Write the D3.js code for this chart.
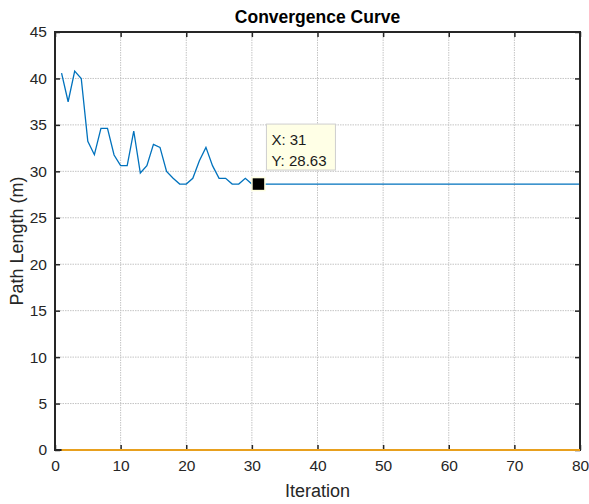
<!DOCTYPE html>
<html>
<head>
<meta charset="utf-8">
<script src="https://cdn.jsdelivr.net/npm/d3@7"></script>
<style>
  html, body { margin: 0; padding: 0; background: #fff; }
  svg { display: block; font-family: "Liberation Sans", Arial, sans-serif; }
</style>
</head>
<body>
<svg id="chart" width="589" height="504"></svg>
<script>
// Path length of the best route at each iteration
const iterations = d3.range(1, 81);
const pathLength = [
  40.57, 37.49, 40.79, 40.00, 33.23, 31.79, 34.62, 34.62, 31.76, 30.61,
  30.61, 34.34, 29.82, 30.61, 32.90, 32.58, 30.00, 29.25, 28.63, 28.63,
  29.25, 31.15, 32.58, 30.61, 29.25, 29.25, 28.63, 28.63, 29.25, 28.63,
  28.63, 28.63, 28.63, 28.63, 28.63, 28.63, 28.63, 28.63, 28.63, 28.63,
  28.63, 28.63, 28.63, 28.63, 28.63, 28.63, 28.63, 28.63, 28.63, 28.63,
  28.63, 28.63, 28.63, 28.63, 28.63, 28.63, 28.63, 28.63, 28.63, 28.63,
  28.63, 28.63, 28.63, 28.63, 28.63, 28.63, 28.63, 28.63, 28.63, 28.63,
  28.63, 28.63, 28.63, 28.63, 28.63, 28.63, 28.63, 28.63, 28.63, 28.63
];
const baseline = [
  0, 0, 0, 0, 0, 0, 0, 0, 0, 0, 0, 0, 0, 0, 0, 0, 0, 0, 0, 0,
  0, 0, 0, 0, 0, 0, 0, 0, 0, 0, 0, 0, 0, 0, 0, 0, 0, 0, 0, 0,
  0, 0, 0, 0, 0, 0, 0, 0, 0, 0, 0, 0, 0, 0, 0, 0, 0, 0, 0, 0,
  0, 0, 0, 0, 0, 0, 0, 0, 0, 0, 0, 0, 0, 0, 0, 0, 0, 0, 0, 0
];
const xTicks = [0, 10, 20, 30, 40, 50, 60, 70, 80];
const yTicks = [0, 5, 10, 15, 20, 25, 30, 35, 40, 45];
const tipIndex = 31;

const svg = d3.select("#chart");
const L = 55, R = 580, T = 32, B = 450;
const x = d3.scaleLinear().domain([0, 80]).range([L, R]);
const y = d3.scaleLinear().domain([0, 45]).range([B, T]);
const axisColor = "#262626";

// grid
const grid = svg.append("g");
grid.selectAll("line.gx").data(xTicks.slice(1, -1)).join("line")
  .attr("x1", d => x(d)).attr("x2", d => x(d)).attr("y1", T).attr("y2", B)
  .attr("stroke", "#c4c4c4").attr("stroke-width", 1).attr("stroke-dasharray", "1.5,1");
grid.selectAll("line.gy").data(yTicks.slice(1, -1)).join("line")
  .attr("y1", d => y(d)).attr("y2", d => y(d)).attr("x1", L).attr("x2", R)
  .attr("stroke", "#c4c4c4").attr("stroke-width", 1).attr("stroke-dasharray", "1.5,1");

// axes (ticks pointing inward, labels outside)
const xAxis = d3.axisBottom(x).tickValues(xTicks).tickSize(-5).tickPadding(10).tickFormat(d3.format("d"));
const yAxis = d3.axisLeft(y).tickValues(yTicks).tickSize(-5).tickPadding(8).tickFormat(d3.format("d"));
const xTop = d3.axisTop(x).tickValues(xTicks).tickSize(-5).tickFormat("");
const yRight = d3.axisRight(y).tickValues(yTicks).tickSize(-5).tickFormat("");

function style(g) {
  g.select(".domain").remove();
  g.selectAll(".tick line").attr("stroke", axisColor).attr("stroke-width", 1.5);
  g.selectAll(".tick text").attr("fill", "#262626").attr("font-size", 15.5)
    .attr("font-family", "'Liberation Sans', Arial, sans-serif");
}
svg.append("g").attr("transform", `translate(0,${B})`).call(xAxis).call(style);
svg.append("g").attr("transform", `translate(${L},0)`).call(yAxis).call(style);
svg.append("g").attr("transform", `translate(0,${T})`).call(xTop).call(style);
svg.append("g").attr("transform", `translate(${R},0)`).call(yRight).call(style);

// series
const line = d3.line().x((d, i) => x(iterations[i])).y(d => y(d));
svg.append("path").datum(pathLength).attr("d", line)
  .attr("fill", "none").attr("stroke", "#0072BD").attr("stroke-width", 1.3);

// box
svg.append("rect").attr("x", L).attr("y", T).attr("width", R - L).attr("height", B - T)
  .attr("fill", "none").attr("stroke", axisColor).attr("stroke-width", 2);

svg.append("path").datum(baseline).attr("d", line)
  .attr("fill", "none").attr("stroke", "#E8A01E").attr("stroke-width", 2);

// data tip
const tx = x(iterations[tipIndex - 1]), ty = y(pathLength[tipIndex - 1]);
svg.append("rect").attr("x", tx - 6.5).attr("y", ty - 6.5).attr("width", 13).attr("height", 13)
  .attr("fill", "#000").attr("stroke", "#ffffe1").attr("stroke-width", 1.5);
const bx = tx + 8, by = ty - 60;
svg.append("rect").attr("x", bx).attr("y", by).attr("width", 69).attr("height", 46)
  .attr("fill", "#ffffe6").attr("stroke", "#cfcfcf").attr("stroke-width", 1);
svg.append("text").attr("x", bx + 5).attr("y", by + 21).attr("font-size", 15).attr("fill", "#1a1a1a")
  .text(`X: ${iterations[tipIndex - 1]}`);
svg.append("text").attr("x", bx + 5).attr("y", by + 42).attr("font-size", 15).attr("fill", "#1a1a1a")
  .text(`Y: ${pathLength[tipIndex - 1].toFixed(2)}`);

// labels
svg.append("text").attr("x", (L + R) / 2).attr("y", 23).attr("text-anchor", "middle")
  .attr("font-size", 17.5).attr("font-weight", "bold").attr("fill", "#000").text("Convergence Curve");
svg.append("text").attr("x", (L + R) / 2).attr("y", 497).attr("text-anchor", "middle")
  .attr("font-size", 18).attr("fill", "#262626").text("Iteration");
svg.append("text").attr("transform", `translate(23,${(T + B) / 2}) rotate(-90)`).attr("text-anchor", "middle")
  .attr("font-size", 18).attr("fill", "#262626").text("Path Length (m)");
</script>
</body>
</html>
